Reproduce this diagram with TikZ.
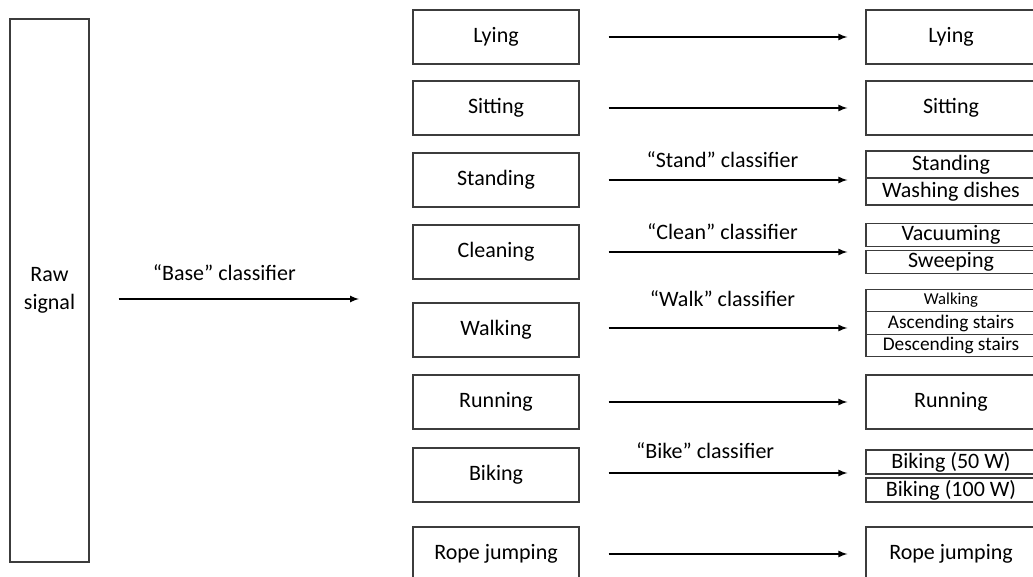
\documentclass[tikz,border=0pt]{standalone}
\usepackage{fontspec}
\setmainfont{Carlito}
\usepackage{xcolor}
\usepackage{tikz}
\usetikzlibrary{arrows}

\definecolor{boxgray}{RGB}{60,60,60}

\tikzset{
  actbox/.style={draw=boxgray, line width=1pt, inner sep=0pt,
    minimum width=124.5pt, minimum height=40.5pt,
    font=\fontsize{16.5pt}{20pt}\selectfont},
  outbox/.style={actbox, minimum width=127.5pt},
  subbox/.style={outbox, minimum height=#1},
  flow/.style={->, line width=1.3pt, shorten <=21.75pt, shorten >=13.5pt},
  lbl/.style={font=\fontsize{16.5pt}{20pt}\selectfont},
}

\begin{document}
\begin{tikzpicture}[x=0.75pt,y=-0.75pt]
\useasboundingbox (0,0) rectangle (1033,577);
\begin{scope}[>=latex]

    \node[actbox, minimum width=59.25pt, minimum height=407.25pt, align=center,
      font=\fontsize{16.5pt}{21pt}\selectfont] (raw) at (49.5,290.5) {Raw\\signal};

    \node[actbox] (m-lying)    at (496,37)  {Lying};
    \node[actbox] (m-sitting)  at (496,108) {Sitting};
    \node[actbox] (m-standing) at (496,180) {Standing};
    \node[actbox] (m-cleaning) at (496,252) {Cleaning};
    \node[actbox] (m-walking)  at (496,330) {Walking};
    \node[actbox] (m-running)  at (496,402) {Running};
    \node[actbox] (m-biking)   at (496,475) {Biking};
    \node[actbox] (m-rope)     at (496,554) {Rope jumping};

    \node[outbox] (o-lying)   at (951,37)  {Lying};
    \node[outbox] (o-sitting) at (951,108) {Sitting};

    \node[subbox=20.25pt] (o-standing) at (951,164.5) {Standing};
    \node[subbox=20.25pt] (o-dishes)   at (951,191.5) {Washing dishes};

    \node[subbox=17pt] (o-vacuum) at (951,235) {Vacuuming};
    \node[subbox=17pt] (o-sweep)  at (951,262) {Sweeping};

    \node[subbox=16.9pt, font=\fontsize{12.5pt}{14pt}\selectfont] (o-walking) at (951,300.5) {Walking};
    \node[subbox=16.9pt, font=\fontsize{14.5pt}{16pt}\selectfont] (o-ascend)  at (951,323)   {Ascending stairs};
    \node[subbox=16.9pt, font=\fontsize{14.5pt}{16pt}\selectfont] (o-descend) at (951,345.5) {Descending stairs};

    \node[outbox] (o-running) at (951,402) {Running};

    \node[subbox=18pt] (o-bike50)  at (951,462) {Biking (50 W)};
    \node[subbox=18pt] (o-bike100) at (951,490) {Biking (100 W)};

    \node[outbox] (o-rope) at (951,554) {Rope jumping};

    \coordinate (baseend) at (359,299);
    \draw[flow, shorten >=0pt] (raw.east |- baseend) -- (baseend)
      node[lbl, midway, yshift=19.5pt] {“Base” classifier};

    \draw[flow] (m-lying.east) -- (m-lying.east -| o-lying.west);
    \draw[flow] (m-sitting.east) -- (m-sitting.east -| o-sitting.west);
    \draw[flow] (m-standing.east) -- (m-standing.east -| o-dishes.west)
      node[lbl, midway, yshift=15pt] {“Stand” classifier};
    \draw[flow] (m-cleaning.east) -- (m-cleaning.east -| o-vacuum.west)
      node[lbl, midway, yshift=15.5pt] {“Clean” classifier};
    \draw[flow] ([yshift=1.5pt]m-walking.east) -- ([yshift=1.5pt]m-walking.east -| o-ascend.west)
      node[lbl, midway, yshift=22pt] {“Walk” classifier};
    \draw[flow] (m-running.east) -- (m-running.east -| o-running.west);
    \draw[flow] ([yshift=1.5pt]m-biking.east) -- ([yshift=1.5pt]m-biking.east -| o-bike50.west)
      node[lbl, midway, xshift=-13pt, yshift=16.5pt] {“Bike” classifier};
    \draw[flow] (m-rope.east) -- (m-rope.east -| o-rope.west);

\end{scope}
\end{tikzpicture}
\end{document}
